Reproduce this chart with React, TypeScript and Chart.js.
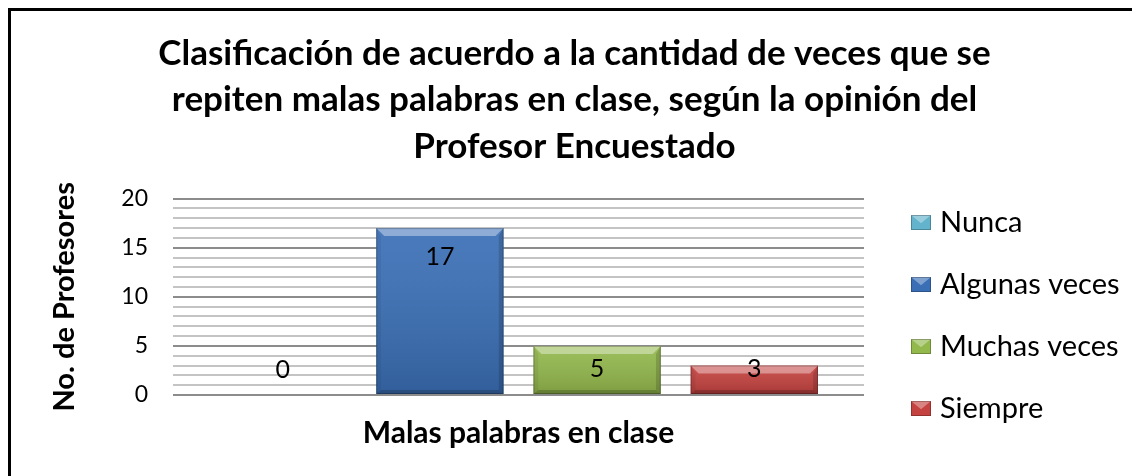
import { useEffect, useRef } from "react";
import { Chart, registerables } from "chart.js";
Chart.register(...registerables);

const categories = ["Malas palabras en clase"];
const seriesNames = ["Nunca", "Algunas veces", "Muchas veces", "Siempre"];
const nunca = [0];
const algunasVeces = [17];
const muchasVeces = [5];
const siempre = [3];
const seriesValues = [nunca, algunasVeces, muchasVeces, siempre];
const seriesColors = ["#62b3cb", "#3a6fb6", "#93b84c", "#c4423f"];
const yMin = 0;
const yMax = 20;
const yMajorStep = 5;
const titleLines = [
  "Clasificación de acuerdo a la cantidad de veces que se",
  "repiten malas palabras en clase, según la opinión del",
  "Profesor Encuestado",
];
const yAxisTitle = "No. de Profesores";

const FONT = "Lato, 'Noto Sans', sans-serif";

const bevelPlugin = {
  id: "bevel",
  afterDatasetsDraw(chart: any) {
    const ctx = chart.ctx;
    chart.data.datasets.forEach((ds: any, i: number) => {
      const meta = chart.getDatasetMeta(i);
      meta.data.forEach((el: any) => {
        const { x, y, base, width } = el.getProps(["x", "y", "base", "width"], true);
        const h = base - y;
        if (h < 1) return;
        const l = x - width / 2;
        const r = x + width / 2;
        const t = y;
        const b = base;
        const bv = Math.min(8, h / 2);
        ctx.save();
        const g = ctx.createLinearGradient(0, t, 0, b);
        g.addColorStop(0, "rgba(255,255,255,0.08)");
        g.addColorStop(1, "rgba(0,0,0,0.15)");
        ctx.fillStyle = g;
        ctx.fillRect(l, t, width, h);
        ctx.fillStyle = "rgba(255,255,255,0.38)";
        ctx.beginPath();
        ctx.moveTo(l, t);
        ctx.lineTo(r, t);
        ctx.lineTo(r - bv, t + bv);
        ctx.lineTo(l + bv, t + bv);
        ctx.closePath();
        ctx.fill();
        ctx.fillStyle = "rgba(0,0,0,0.06)";
        ctx.beginPath();
        ctx.moveTo(l, t);
        ctx.lineTo(l + bv * 0.6, t + bv);
        ctx.lineTo(l + bv * 0.6, b - bv * 0.5);
        ctx.lineTo(l, b);
        ctx.closePath();
        ctx.fill();
        ctx.fillStyle = "rgba(0,0,0,0.15)";
        ctx.beginPath();
        ctx.moveTo(r, t);
        ctx.lineTo(r - bv * 0.6, t + bv);
        ctx.lineTo(r - bv * 0.6, b - bv * 0.5);
        ctx.lineTo(r, b);
        ctx.closePath();
        ctx.fill();
        ctx.fillStyle = "rgba(0,0,0,0.2)";
        ctx.beginPath();
        ctx.moveTo(l, b);
        ctx.lineTo(r, b);
        ctx.lineTo(r - bv * 0.6, b - bv * 0.5);
        ctx.lineTo(l + bv * 0.6, b - bv * 0.5);
        ctx.closePath();
        ctx.fill();
        ctx.strokeStyle = "rgba(0,0,0,0.25)";
        ctx.lineWidth = 1;
        ctx.strokeRect(l + 0.5, t + 0.5, width - 1, h - 1);
        ctx.restore();
      });
    });
  },
};

const labelPlugin = {
  id: "barLabels",
  afterDatasetsDraw(chart: any) {
    const ctx = chart.ctx;
    ctx.save();
    ctx.font = `25px ${FONT}`;
    ctx.fillStyle = "#000";
    ctx.textAlign = "center";
    ctx.textBaseline = "middle";
    chart.data.datasets.forEach((ds: any, i: number) => {
      const meta = chart.getDatasetMeta(i);
      meta.data.forEach((el: any, j: number) => {
        const { x, y, base } = el.getProps(["x", "y", "base"], true);
        const ly = Math.min(y + 29, base - 25);
        ctx.fillText(String(ds.data[j]), x, ly);
      });
    });
    ctx.restore();
  },
};

const legendPlugin = {
  id: "sideLegend",
  afterDraw(chart: any) {
    const ctx = chart.ctx;
    const area = chart.chartArea;
    const x0 = area.right + 47;
    const yStart = 211;
    const step = 62;
    ctx.save();
    ctx.font = `29px ${FONT}`;
    ctx.textBaseline = "middle";
    ctx.textAlign = "left";
    chart.data.datasets.forEach((ds: any, i: number) => {
      const cy = yStart + i * step;
      const bx = x0;
      const by = cy - 7;
      const bw = 20;
      const bh = 15;
      ctx.fillStyle = ds.backgroundColor;
      ctx.fillRect(bx, by, bw, bh);
      ctx.fillStyle = "rgba(255,255,255,0.35)";
      ctx.beginPath();
      ctx.moveTo(bx, by);
      ctx.lineTo(bx + bw, by);
      ctx.lineTo(bx + bw / 2, by + bh * 0.55);
      ctx.closePath();
      ctx.fill();
      ctx.strokeStyle = "rgba(0,0,0,0.25)";
      ctx.lineWidth = 1;
      ctx.strokeRect(bx + 0.5, by + 0.5, bw - 1, bh - 1);
      ctx.fillStyle = "#000";
      ctx.fillText(ds.label, bx + bw + 9, cy + 1);
    });
    ctx.restore();
  },
};

export default function App() {
  const ref = useRef<HTMLCanvasElement | null>(null);
  useEffect(() => {
    if (!ref.current) return;
    const chart = new Chart(ref.current, {
      type: "bar",
      data: {
        labels: categories,
        datasets: seriesNames.map((name, i) => ({
          label: name,
          data: seriesValues[i],
          backgroundColor: seriesColors[i],
          borderWidth: 0,
          barPercentage: 0.81,
          categoryPercentage: 0.91,
          yAxisID: "y",
        })),
      },
      options: {
        responsive: false,
        animation: false,
        layout: { padding: 0 },
        plugins: {
          legend: { display: false },
          tooltip: { enabled: false },
          title: {
            display: true,
            text: titleLines,
            color: "#000",
            font: { family: FONT, size: 35, weight: "bold", lineHeight: 1.33 },
            padding: { top: 19, bottom: 29 },
          },
        },
        scales: {
          x: {
            grid: { display: false, drawTicks: false },
            border: { display: false },
            ticks: {
              color: "#000",
              font: { family: FONT, size: 30, weight: "bold" },
              padding: 20,
            },
            afterFit(s: any) {
              s.height = 81;
            },
          },
          y: {
            position: "left",
            min: yMin,
            max: yMax,
            border: { display: false },
            grid: {
              drawTicks: false,
              lineWidth: 2,
              color: (c: any) =>
                c.tick && c.tick.value % yMajorStep === 0 ? "#8c8c8c" : "#c4c4c4",
            },
            ticks: {
              stepSize: 1,
              autoSkip: false,
              color: "#000",
              padding: 25,
              font: { family: FONT, size: 23 },
              callback: (v: any) => (Number(v) % yMajorStep === 0 ? String(v) : ""),
            },
            title: {
              display: true,
              text: yAxisTitle,
              color: "#000",
              font: { family: FONT, size: 29, weight: "bold", lineHeight: 1.2 },
              padding: { top: 36, bottom: 0 },
            },
            afterFit(s: any) {
              s.width = 162;
            },
          },
          legendSpace: {
            type: "linear",
            position: "right",
            display: true,
            grid: { display: false, drawTicks: false },
            border: { display: false },
            ticks: { display: false },
            afterFit(s: any) {
              s.width = 274;
            },
          },
        },
      },
      plugins: [bevelPlugin, labelPlugin, legendPlugin],
    });
    return () => chart.destroy();
  }, []);
  return (
    <div
      style={{
        width: 1132,
        height: 468,
        boxSizing: "border-box",
        borderTop: "3px solid #000",
        borderLeft: "3px solid #000",
        borderRight: "2px solid #808080",
        background: "#fff",
      }}
    >
      <canvas ref={ref} width={1127} height={465} style={{ display: "block" }} />
    </div>
  );
}
